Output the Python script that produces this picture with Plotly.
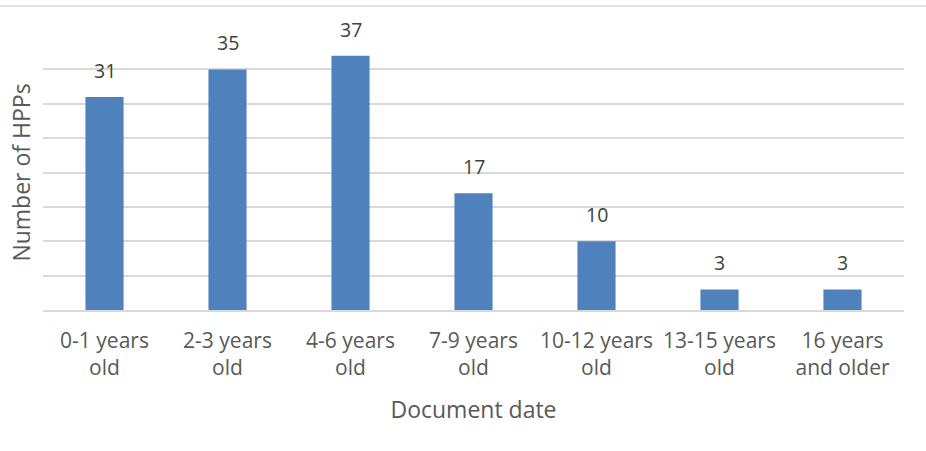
import plotly.graph_objects as go

categories = ["0-1 years<br>old", "2-3 years<br>old", "4-6 years<br>old", "7-9 years<br>old",
              "10-12 years<br>old", "13-15 years<br>old", "16 years<br>and older"]
values = [31, 35, 37, 17, 10, 3, 3]

W, H = 926, 451
ml, mr, mt, mb = 43, 22, 35, 141
pw = W - ml - mr
ph = H - mt - mb

fig = go.Figure()
fig.add_trace(go.Bar(x=categories, y=values, marker=dict(color="#4F81BD", line=dict(width=0)),
                     width=0.31, showlegend=False, hoverinfo="x+y"))

for c, v in zip(categories, values):
    fig.add_annotation(x=c, y=v, text=str(v), showarrow=False, yanchor="bottom", yshift=11,
                       font=dict(family="Open Sans", size=19.5, color="#404040"))

fig.add_shape(type="line", xref="paper", yref="paper",
              x0=-ml / pw, x1=(W - ml) / pw, y0=(ph + mt - 6) / ph, y1=(ph + mt - 6) / ph,
              line=dict(color="#D9D9D9", width=1.5))

fig.update_layout(
    width=W, height=H,
    margin=dict(l=ml, r=mr, t=mt, b=mb),
    paper_bgcolor="white", plot_bgcolor="white",
    bargap=0.69,
    font=dict(family="Open Sans", color="#595959"),
    xaxis=dict(showgrid=False, showline=True, linecolor="#D9D9D9", linewidth=1.5,
               ticks="", tickfont=dict(size=21, color="#595959"), ticklabelstandoff=11,
               title=dict(text="Document date", font=dict(size=23, color="#595959"), standoff=22)),
    yaxis=dict(range=[0, 40], dtick=5, showgrid=True, gridcolor="#D9D9D9", gridwidth=1.5,
               showticklabels=False, zeroline=False, ticks="",
               title=dict(text="Number of HPPs", font=dict(size=23, color="#595959"), standoff=4)),
)

fig.write_html("out.html", post_script="document.body.style.margin='0';",
               config={"displayModeBar": False})
